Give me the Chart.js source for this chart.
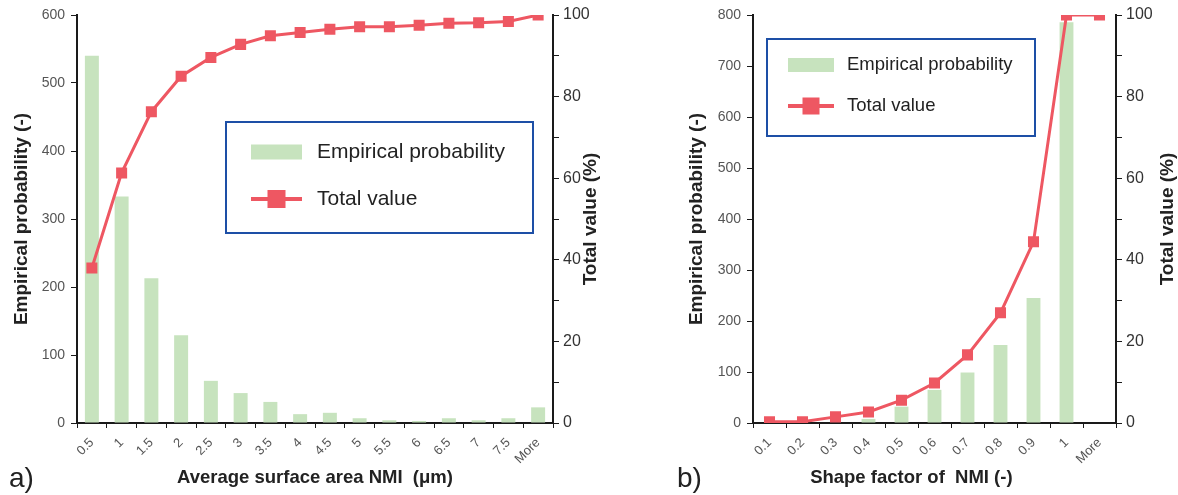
<!DOCTYPE html>
<html>
<head>
<meta charset="utf-8">
<script src="https://cdn.jsdelivr.net/npm/chart.js@4/dist/chart.umd.min.js"></script>
<style>
  html, body { margin: 0; padding: 0; background: #fff; }
  #wrap { position: relative; width: 1178px; height: 495px; overflow: hidden; }
  canvas { position: absolute; top: 0; }
  #sizeChart { left: 0; }
  #shapeChart { left: 615px; }
</style>
</head>
<body>
<div id="wrap">
  <canvas id="sizeChart" width="615" height="495"></canvas>
  <canvas id="shapeChart" width="563" height="495"></canvas>
</div>
<script>
// a) average surface area of NMI
const sizeLabels = ['0.5', '1', '1.5', '2', '2.5', '3', '3.5', '4', '4.5', '5', '5.5', '6', '6.5', '7', '7.5', 'More'];
const sizeCounts = [540, 333, 213, 129, 62, 44, 31, 13, 15, 7, 4, 3, 7, 4, 7, 23];
const sizeTotal = [38, 61.3, 76.3, 85, 89.6, 92.8, 94.9, 95.7, 96.5, 97.1, 97.1, 97.5, 98, 98.1, 98.4, 100];

// b) shape factor of NMI
const shapeLabels = ['0.1', '0.2', '0.3', '0.4', '0.5', '0.6', '0.7', '0.8', '0.9', '1', 'More'];
const shapeCounts = [0, 0, 1, 8, 32, 65, 99, 153, 245, 786, 0];
const shapeTotal = [0.3, 0.3, 1.5, 2.7, 5.6, 9.8, 16.7, 27, 44.4, 100, 100];

const FONT = "'Liberation Sans', Arial, sans-serif";
const GREEN = '#c7e3be';
const RED = '#ee5762';
const AXIS = '#1a1a1a';
const TITLE_FONT = { family: FONT, size: 19, weight: 'bold' };

// legend inside a blue box, drawn on the canvas
const boxLegend = {
  id: 'boxLegend',
  afterDraw(chart, args, o) {
    const ctx = chart.ctx;
    const ds = chart.data.datasets;
    const bar = ds.find(d => d.type === 'bar');
    const line = ds.find(d => d.type === 'line');
    ctx.save();
    ctx.fillStyle = '#fff';
    ctx.fillRect(o.left, o.top, o.width, o.height);
    ctx.strokeStyle = '#1d4fa6';
    ctx.lineWidth = 2;
    ctx.strokeRect(o.left, o.top, o.width, o.height);

    ctx.fillStyle = bar.backgroundColor;
    ctx.fillRect(o.swX, o.row1 - o.swH / 2, o.swW, o.swH);
    ctx.strokeStyle = line.borderColor;
    ctx.lineWidth = 4;
    ctx.beginPath();
    ctx.moveTo(o.swX, o.row2);
    ctx.lineTo(o.swX + o.swW, o.row2);
    ctx.stroke();
    ctx.fillStyle = line.borderColor;
    ctx.fillRect(o.swX + o.swW / 2 - o.mk / 2, o.row2 - o.mk / 2, o.mk, o.mk);

    ctx.fillStyle = '#222';
    ctx.font = o.fontSize + 'px ' + FONT;
    ctx.textBaseline = 'middle';
    ctx.textAlign = 'left';
    ctx.fillText(bar.label, o.textX, o.row1);
    ctx.fillText(line.label, o.textX, o.row2);
    ctx.restore();
  }
};

// panel letter and the right axis title (reads bottom to top, like the left one)
const extraText = {
  id: 'extraText',
  afterDraw(chart, args, o) {
    const ctx = chart.ctx;
    const area = chart.chartArea;
    ctx.save();
    ctx.fillStyle = '#222';
    ctx.font = '28px ' + FONT;
    ctx.textBaseline = 'middle';
    ctx.textAlign = 'left';
    ctx.fillText(o.panel, o.panelX, o.panelY);

    ctx.translate(o.rightTitleX, (area.top + area.bottom) / 2);
    ctx.rotate(-Math.PI / 2);
    ctx.font = 'bold ' + TITLE_FONT.size + 'px ' + FONT;
    ctx.textAlign = 'center';
    ctx.fillText(o.rightTitle, 0, 0);
    ctx.restore();
  }
};

function makeChart(id, labels, counts, totals, cfg) {
  return new Chart(document.getElementById(id), {
    type: 'bar',
    data: {
      labels: labels,
      datasets: [{
        type: 'line',
        label: 'Total value',
        data: totals,
        yAxisID: 'y1',
        borderColor: RED,
        backgroundColor: RED,
        borderWidth: 3,
        pointStyle: 'rect',
        pointRadius: 7.8,
        pointBorderWidth: 0,
        tension: 0,
        fill: false
      }, {
        type: 'bar',
        label: 'Empirical probability',
        data: counts,
        yAxisID: 'y',
        backgroundColor: GREEN,
        barPercentage: cfg.barPct,
        categoryPercentage: 1
      }]
    },
    options: {
      responsive: false,
      animation: false,
      layout: { padding: { top: 15, left: 0, right: 0, bottom: 0 } },
      plugins: {
        legend: { display: false },
        tooltip: { enabled: false },
        boxLegend: cfg.legend,
        extraText: cfg.text
      },
      scales: {
        x: {
          offset: true,
          grid: { drawOnChartArea: false, drawTicks: true, tickLength: 5, color: AXIS, offset: true },
          border: { display: true, color: AXIS, width: 2 },
          ticks: { minRotation: 45, maxRotation: 45, autoSkip: false, padding: 7, color: '#555', font: { family: FONT, size: 13 } },
          title: { display: true, text: cfg.xTitle, color: '#222', font: { family: FONT, size: 18.5, weight: 'bold' }, padding: { top: 0, bottom: 6 } },
          afterFit(s) { s.height = 72; }
        },
        y: {
          position: 'left',
          min: 0,
          max: cfg.yMax,
          grid: { drawOnChartArea: false, tickLength: 6, color: AXIS },
          border: { display: true, color: AXIS, width: 2 },
          ticks: { stepSize: 100, padding: 6, color: '#555', font: { family: FONT, size: 14 } },
          title: { display: true, text: 'Empirical probability (-)', color: '#222', font: TITLE_FONT, padding: { top: cfg.yTitlePad, bottom: 0 } },
          afterFit(s) { s.width = cfg.yWidth; }
        },
        y1: {
          position: 'right',
          min: 0,
          max: 100,
          grid: { drawOnChartArea: false, tickLength: 6, color: AXIS },
          border: { display: true, color: AXIS, width: 2 },
          ticks: {
            stepSize: 10,
            padding: 4,
            color: '#333',
            font: { family: FONT, size: 16 },
            callback: v => (v % 20 === 0 ? v : '')
          },
          afterFit(s) { s.width = 62; }
        }
      }
    },
    plugins: [boxLegend, extraText]
  });
}

makeChart('sizeChart', sizeLabels, sizeCounts, sizeTotal, {
  barPct: 0.47,
  yMax: 600,
  yWidth: 77,
  yTitlePad: 10,
  xTitle: 'Average surface area NMI  (\u03bcm)',
  legend: { left: 226, top: 122, width: 307, height: 111, swX: 251, swW: 51, swH: 15, mk: 18, row1: 152, row2: 199, textX: 317, fontSize: 21 },
  text: { panel: 'a)', panelX: 9, panelY: 479, rightTitle: 'Total value (%)', rightTitleX: 591 }
});

makeChart('shapeChart', shapeLabels, shapeCounts, shapeTotal, {
  barPct: 0.42,
  yMax: 800,
  yWidth: 138,
  yTitlePad: 70,
  xTitle: 'Shape factor of  NMI (-)' + '\u00a0'.repeat(9),
  legend: { left: 152, top: 39, width: 268, height: 97, swX: 173, swW: 46, swH: 14, mk: 17, row1: 65, row2: 106, textX: 232, fontSize: 18.5 },
  text: { panel: 'b)', panelX: 62, panelY: 479, rightTitle: 'Total value (%)', rightTitleX: 553 }
});
</script>
</body>
</html>
